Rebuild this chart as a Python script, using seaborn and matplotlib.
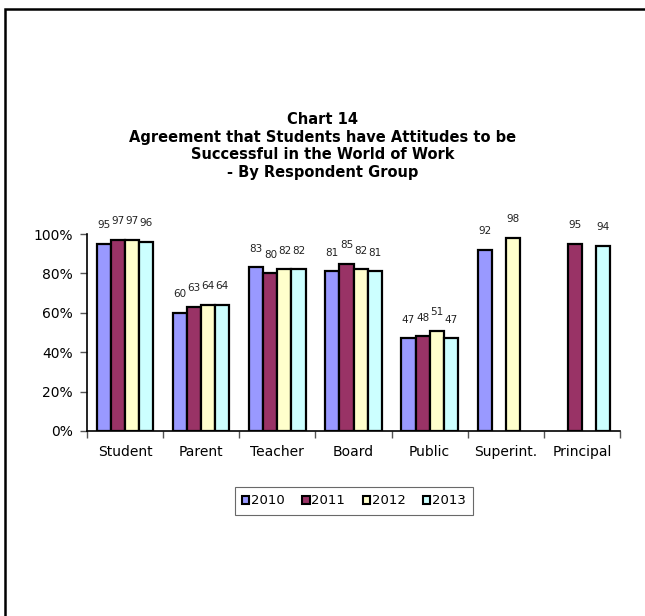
import numpy as np
import pandas as pd
import matplotlib
matplotlib.use("Agg")
import matplotlib.pyplot as plt
from matplotlib.patches import Rectangle, Patch
import seaborn as sns

groups = ["Student", "Parent", "Teacher", "Board", "Public", "Superint.", "Principal"]
years = ["2010", "2011", "2012", "2013"]
pct_2010 = [95, 60, 83, 81, 47, 92, np.nan]
pct_2011 = [97, 63, 80, 85, 48, np.nan, 95]
pct_2012 = [97, 64, 82, 82, 51, 98, np.nan]
pct_2013 = [96, 64, 82, 81, 47, np.nan, 94]
year_colors = ["#9999FF", "#993366", "#FFFFCC", "#CCFFFF"]
y_ticks = [0, 20, 40, 60, 80, 100]
y_ticklabels = ["0%", "20%", "40%", "60%", "80%", "100%"]
title = ("Chart 14\nAgreement that Students have Attitudes to be\n"
         "Successful in the World of Work\n- By Respondent Group")

series = [pct_2010, pct_2011, pct_2012, pct_2013]
df = pd.DataFrame(
    [(g, y, v) for y, vals in zip(years, series) for g, v in zip(groups, vals)],
    columns=["group", "year", "value"],
).dropna()

sns.set_theme(style="white")
plt.rcParams["font.family"] = ["DejaVu Sans"]
plt.rcParams["text.color"] = "black"
plt.rcParams["xtick.color"] = "black"
plt.rcParams["ytick.color"] = "black"

fig = plt.figure(figsize=(6.45, 6.16), dpi=100)
ax = fig.add_axes([87 / 645, 1 - 431 / 616, (620 - 87) / 645, (431 - 234) / 616])

sns.barplot(data=df, x="group", y="value", hue="year", order=groups,
            hue_order=years, palette=year_colors, width=0.74, gap=0,
            edgecolor="black", linewidth=1.6, saturation=1, legend=False,
            ax=ax)

for cont in ax.containers:
    ax.bar_label(cont, fmt="%.0f", padding=10, fontsize=7.5, color="#222222")

ax.set_ylim(0, 100)
ax.set_xlim(-0.5, len(groups) - 0.5)
ax.set_yticks(y_ticks)
ax.set_yticklabels(y_ticklabels, fontsize=10)

# category labels centred under groups, tick marks on the group boundaries
ax.set_xticks(np.arange(len(groups) + 1) - 0.5)
ax.set_xticklabels([])
ax.set_xticks(np.arange(len(groups)), minor=True)
ax.set_xticklabels(groups, minor=True, fontsize=10)
ax.tick_params(axis="x", which="major", direction="out", length=5, width=1,
               color="#555555", bottom=True)
ax.tick_params(axis="x", which="minor", length=0, pad=10)
ax.tick_params(axis="y", direction="out", length=5, width=1,
               color="#555555", left=True, pad=5)
ax.set_xlabel("")
ax.set_ylabel("")
for side in ["top", "right"]:
    ax.spines[side].set_visible(False)
for side in ["left", "bottom"]:
    ax.spines[side].set_visible(True)
    ax.spines[side].set_color("black")
    ax.spines[side].set_linewidth(1.2)

fig.text(0.5, 1 - 112 / 616, title, ha="center", va="top", fontsize=10.5,
         fontweight="bold", linespacing=1.22)

handles = [Patch(facecolor=c, edgecolor="black", linewidth=1.5, label=y)
           for c, y in zip(year_colors, years)]
leg = fig.legend(handles=handles, loc="center", ncol=4,
                 bbox_to_anchor=(354 / 645, 1 - 501 / 616), fontsize=9.5,
                 frameon=True, fancybox=False, handlelength=0.55,
                 handleheight=0.55, handletextpad=0.15, columnspacing=1.3,
                 borderpad=0.55)
leg.get_frame().set_edgecolor("#444444")
leg.get_frame().set_linewidth(0.8)

fig.patches.append(Rectangle((4.5 / 645, -0.05), 1.2, 1 - 9 / 616 + 0.05,
                             transform=fig.transFigure, fill=False,
                             edgecolor="black", linewidth=1.8))

fig.savefig("out.png", dpi=100)
